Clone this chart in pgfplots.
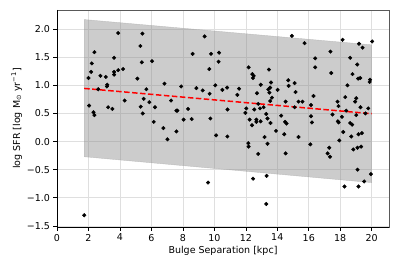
\documentclass[border=0pt]{standalone}
\usepackage{fontspec}
\setmainfont{DejaVu Sans}
\usepackage{pgfplots}
\pgfplotsset{compat=1.18}
\usepackage{pgfplotstable}

\pgfplotstableread{
x y
3.89 1.93
5.43 1.92
5.30 1.70
2.38 1.59
3.63 1.49
5.39 1.41
6.04 1.43
2.21 1.39
2.17 1.24
3.63 1.24
3.63 1.19
3.89 1.27
4.20 1.29
2.76 1.17
3.10 1.15
2.00 1.13
5.11 1.12
3.19 1.01
3.17 0.98
6.83 1.03
2.62 0.93
5.68 0.93
4.30 0.73
5.51 0.76
5.87 0.70
2.04 0.64
5.32 0.62
6.23 0.61
3.25 0.61
3.52 0.58
2.32 0.52
2.38 0.47
5.45 0.50
6.15 0.35
6.76 0.24
7.02 0.04
1.73 -1.31
9.38 1.87
8.62 1.56
9.79 1.56
10.30 1.58
10.27 1.42
9.68 1.29
12.18 1.32
13.47 1.28
12.41 1.20
12.50 1.17
12.45 1.13
7.89 0.98
8.86 0.95
9.26 0.91
10.06 1.00
10.51 0.92
10.81 0.96
11.57 0.94
9.70 0.85
11.46 0.83
12.95 1.01
13.60 1.05
13.43 0.93
13.55 0.96
13.50 0.87
12.71 0.86
14.02 0.92
13.66 0.78
13.55 0.72
7.25 0.73
12.79 0.67
13.13 0.61
12.90 0.59
12.03 0.59
12.54 0.57
7.59 0.55
7.65 0.55
8.33 0.58
10.84 0.57
11.97 0.51
13.30 0.49
7.59 0.18
8.05 0.39
8.56 0.40
9.75 0.41
10.11 0.11
10.83 0.09
9.60 -0.73
12.16 -0.03
12.18 -0.09
12.79 -0.22
12.46 -0.66
13.32 -0.61
13.30 -1.11
12.24 0.39
12.39 0.29
12.67 0.39
12.67 0.35
12.94 0.36
13.57 0.33
13.92 0.19
13.19 0.08
13.38 -0.04
13.38 0.41
14.93 1.88
15.73 1.75
18.15 1.81
19.19 1.74
19.42 1.67
20.03 1.78
17.38 1.60
16.41 1.48
16.41 1.32
18.63 1.49
19.08 1.37
17.43 1.22
18.78 1.20
19.14 1.12
19.27 1.13
19.90 1.10
19.87 1.06
14.70 1.09
15.10 1.04
14.72 0.99
18.46 1.00
15.16 0.88
16.30 0.81
18.32 0.79
19.02 0.77
18.95 0.71
14.53 0.71
15.35 0.71
15.60 0.71
17.83 0.71
17.89 0.63
19.29 0.61
19.78 0.59
15.10 0.61
16.14 0.65
18.38 0.55
17.51 0.48
18.11 0.44
19.02 0.47
19.60 0.50
14.25 0.46
16.14 0.45
14.50 0.35
14.59 0.32
14.44 0.13
15.35 0.08
16.10 -0.05
14.53 -0.21
16.20 0.34
17.85 0.36
17.90 0.34
18.19 0.17
17.94 0.02
18.63 0.33
18.76 0.30
18.70 0.09
19.16 0.13
19.38 0.15
17.30 -0.11
17.20 -0.21
17.35 -0.27
18.83 -0.14
19.10 -0.11
19.33 -0.09
19.10 -0.50
19.95 -0.58
18.27 -0.80
19.16 -0.80
19.52 -0.71
}\pts

\begin{document}
\begin{tikzpicture}
\useasboundingbox (-57pt,-39pt) rectangle (342pt,227pt);
\begin{axis}[
  scale only axis,
  width=332pt, height=217pt,
  xmin=0, xmax=21.1,
  ymin=-1.52, ymax=2.34,
  xtick={0,2,4,6,8,10,12,14,16,18,20},
  ytick={-1.5,-1,-0.5,0,0.5,1,1.5,2},
  yticklabels={−1.5,−1.0,−0.5,0.0,0.5,1.0,1.5,2.0},
  /pgf/number format/assume math mode=true,
  xtick pos=bottom, ytick pos=left,
  tick align=outside,
  major tick length=3.5pt,
  tick style={black, line width=0.6pt},
  grid=major,
  major grid style={gray!25, line width=0.6pt},
  axis line style={gray!70!black, line width=0.8pt},
  ticklabel style={font=\fontsize{9.5}{11}\selectfont},
  label style={font=\fontsize{9.5}{11}\selectfont},
  xlabel={Bulge Separation [kpc]},
  ylabel={log SFR [log M\textsubscript{⊙} yr\textsuperscript{−1}]},
  xlabel style={yshift=2pt},
  ylabel style={yshift=-2pt},
]
\addplot[draw=gray!70, fill=gray, fill opacity=0.4, draw opacity=0.6] coordinates {(1.73,2.17) (20.0,1.72) (20.0,-0.73) (1.73,-0.27)} -- cycle;
\addplot[only marks, mark=*, mark size=1.8pt, black] table {\pts};
\addplot[red, line width=1.5pt, dash pattern=on 5.5pt off 2.5pt] coordinates {(1.73,0.945) (20.0,0.495)};
\draw[black, line width=0.8pt] (rel axis cs:0,1) -- (rel axis cs:0,0) -- (rel axis cs:1,0);
\end{axis}
\end{tikzpicture}
\end{document}
